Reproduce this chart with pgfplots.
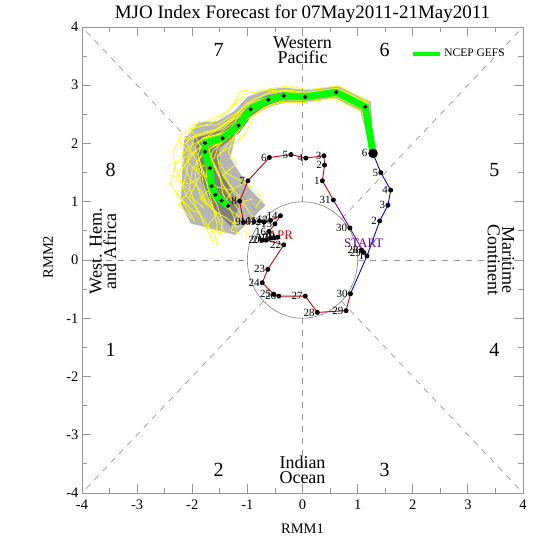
\documentclass[border=0pt]{standalone}
\usepackage{fontspec}
\setmainfont{Liberation Serif}
\usepackage{pgfplots}
\pgfplotsset{compat=1.18}
\definecolor{obsred}{RGB}{205,0,0}
\definecolor{obspurple}{RGB}{110,0,170}
\definecolor{obsblue}{RGB}{0,0,255}
\definecolor{gefsgreen}{RGB}{0,255,0}
\definecolor{ensyellow}{RGB}{255,255,0}
\definecolor{shadelight}{RGB}{182,182,182}
\definecolor{shadedark}{RGB}{128,128,128}
\definecolor{framegray}{RGB}{150,150,150}
\newcommand{\fs}[2]{\fontsize{#1bp}{#2bp}\selectfont}
\pgfplotsset{
  ens/.style={ensyellow, line width=0.7bp, forget plot},
  refline/.style={framegray, line width=0.7bp, dash pattern=on 6bp off 6bp, forget plot},
  obs/.style={line width=0.9bp, mark=*, mark size=2bp, mark options={black, solid}, forget plot,
    nodes near coords, point meta=explicit symbolic,
    every node near coord/.style={anchor=east, font=\fs{11}{11}, black, inner sep=0.8bp, xshift=-1.5bp}},
}
\begin{document}
\begin{tikzpicture}
\useasboundingbox (-82bp,-54bp) rectangle (465bp,493bp);
\begin{axis}[
  at={(0,0)}, anchor=south west,
  width=441bp, height=466bp, scale only axis,
  xmin=-4, xmax=4, ymin=-4, ymax=4,
  xtick={-4,...,4}, ytick={-4,...,4},
  minor tick num=1,
  tick align=inside, tick pos=both,
  major tick length=9bp, minor tick length=5bp,
  axis line style={framegray, line width=0.8bp},
  tick style={framegray, line width=0.8bp},
  ticklabel style={font=\fs{14.5}{16}, black},
  xticklabel style={yshift=-3bp},
  /pgf/number format/assume math mode=true,
  xlabel={RMM1}, ylabel={RMM2},
  label style={font=\fs{14.5}{16}},
  x label style={at={(axis description cs:0.5,-0.086)}, anchor=base},
  y label style={at={(axis description cs:-0.077,0.506)}, anchor=center},
  clip=false,
  legend style={at={(axis cs:1.97,3.54)}, anchor=west, draw=none, fill=none,
    font=\fs{11.5}{13}, inner sep=0pt},
]
% ensemble spread shading
\addplot[fill=shadelight, draw=none, forget plot] coordinates {
 (1.30,1.83) (1.24,2.72) (0.63,2.99) (0.05,2.92) (-0.35,2.96) (-0.66,2.92)
 (-1.00,2.80) (-1.25,2.55) (-1.55,2.38) (-1.88,2.37) (-2.15,2.06) (-2.18,1.55)
 (-2.21,0.97) (-2.03,0.63) (-1.22,0.43) (-0.67,0.94) (-0.94,1.20) (-1.31,1.75)
 (-1.22,2.12) (-0.95,2.45) (-0.62,2.62) (-0.33,2.70) (0.05,2.70) (0.60,2.78)
 (1.05,2.55) (1.26,1.83)} -- cycle;
\addplot[fill=shadedark, draw=none, forget plot] coordinates {
 (1.29,1.83) (1.20,2.68) (0.62,2.93) (0.05,2.85) (-0.35,2.88) (-0.65,2.82)
 (-0.98,2.68) (-1.22,2.42) (-1.50,2.22) (-1.98,2.08) (-1.90,1.72) (-1.82,1.30)
 (-1.62,0.90) (-1.30,0.57) (-1.16,0.91) (-1.35,1.30) (-1.50,1.60) (-1.52,1.92)
 (-1.15,2.18) (-0.92,2.48) (-0.62,2.66) (-0.33,2.74) (0.05,2.74) (0.60,2.82)
 (1.08,2.58) (1.27,1.83)} -- cycle;
% reference lines
\addplot[refline] coordinates {(-4,0) (-1,0)};
\addplot[refline] coordinates {(1,0) (4,0)};
\addplot[refline] coordinates {(0,1) (0,4)};
\addplot[refline] coordinates {(0,-1) (0,-4)};
\addplot[refline] coordinates {(0.7071,0.7071) (4,4)};
\addplot[refline] coordinates {(-0.7071,0.7071) (-4,4)};
\addplot[refline] coordinates {(0.7071,-0.7071) (4,-4)};
\addplot[refline] coordinates {(-0.7071,-0.7071) (-4,-4)};
\draw[gray, line width=0.6bp] (axis cs:0,0) ellipse [x radius=1, y radius=1];
% ensemble members
\addplot[ens] coordinates {(1.28,1.83) (1.18,2.68) (0.62,2.95) (0.05,2.86) (-0.35,2.90) (-0.66,2.85) (-1.0,2.70) (-1.25,2.45) (-1.55,2.25) (-1.95,2.15) (-2.05,1.85) (-2.1,1.5) (-2.2,1.2) (-2.3,1.15) (-2.1,0.9) (-1.95,0.65)};
\addplot[ens] coordinates {(1.28,1.83) (1.10,2.58) (0.58,2.82) (0.02,2.74) (-0.32,2.75) (-0.60,2.66) (-0.88,2.48) (-1.05,2.15) (-1.30,1.95) (-1.55,1.80) (-1.50,1.55) (-1.35,1.35) (-1.20,1.15) (-1.05,0.95) (-0.95,0.80) (-0.85,0.70)};
\addplot[ens] coordinates {(1.28,1.83) (1.16,2.66) (0.66,2.90) (0.10,2.83) (-0.30,2.86) (-0.58,2.80) (-0.92,2.66) (-1.15,2.40) (-1.42,2.18) (-1.80,2.10) (-1.95,1.95) (-1.85,1.65) (-1.80,1.30) (-1.70,1.05) (-1.55,0.75) (-1.40,0.45)};
\addplot[ens] coordinates {(1.28,1.83) (1.12,2.60) (0.60,2.86) (0.06,2.78) (-0.36,2.78) (-0.66,2.70) (-1.0,2.55) (-1.25,2.25) (-1.60,2.05) (-1.90,1.90) (-2.15,1.75) (-2.25,1.45) (-2.10,1.10) (-1.90,0.85) (-1.75,0.55) (-1.60,0.28)};
\addplot[ens] coordinates {(1.28,1.83) (1.15,2.64) (0.55,2.90) (0.00,2.82) (-0.40,2.85) (-0.70,2.78) (-1.05,2.65) (-1.30,2.40) (-1.60,2.20) (-1.85,2.05) (-1.70,1.80) (-1.55,1.55) (-1.45,1.30) (-1.30,1.10) (-1.10,1.00) (-0.90,1.05)};
\addplot[ens] coordinates {(1.28,1.83) (1.13,2.62) (0.63,2.85) (0.08,2.78) (-0.30,2.80) (-0.60,2.72) (-0.90,2.55) (-1.12,2.28) (-1.40,2.05) (-1.70,1.95) (-1.90,1.70) (-1.95,1.40) (-1.85,1.10) (-1.60,0.85) (-1.35,0.70) (-1.15,0.55)};
\addplot[ens] coordinates {(1.28,1.83) (1.17,2.69) (0.64,2.93) (0.04,2.85) (-0.38,2.92) (-0.72,2.90) (-1.05,2.85) (-1.30,2.60) (-1.65,2.35) (-2.00,2.25) (-2.10,2.00) (-1.95,1.75) (-1.75,1.45) (-1.55,1.25) (-1.30,1.20) (-1.10,1.30)};
\addplot[ens] coordinates {(1.28,1.83) (1.11,2.59) (0.57,2.84) (0.03,2.76) (-0.33,2.77) (-0.64,2.69) (-0.98,2.50) (-1.20,2.20) (-1.50,2.00) (-1.80,1.85) (-2.00,1.55) (-2.05,1.25) (-1.95,0.95) (-1.80,0.70) (-1.65,0.50) (-1.55,0.35)};
\addplot[ens] coordinates {(1.28,1.83) (1.15,2.65) (0.60,2.89) (0.06,2.81) (-0.33,2.83) (-0.62,2.77) (-0.95,2.62) (-1.18,2.35) (-1.48,2.12) (-1.75,2.00) (-1.65,1.75) (-1.50,1.45) (-1.45,1.15) (-1.35,0.95) (-1.25,0.75) (-1.20,0.50)};
\addplot[ens] coordinates {(1.28,1.83) (1.14,2.63) (0.61,2.88) (0.05,2.80) (-0.35,2.80) (-0.65,2.72) (-0.95,2.58) (-1.20,2.32) (-1.50,2.15) (-1.85,2.05) (-2.05,1.95) (-2.30,1.65) (-2.40,1.30) (-2.20,1.05) (-2.00,0.85) (-1.85,0.80)};
\addplot[ens] coordinates {(1.28,1.83) (1.16,2.67) (0.62,2.92) (0.07,2.84) (-0.32,2.85) (-0.60,2.78) (-0.92,2.60) (-1.10,2.28) (-1.35,2.00) (-1.55,1.75) (-1.40,1.50) (-1.20,1.40) (-1.00,1.30) (-0.85,1.20) (-0.75,1.05) (-0.85,0.90)};
\addplot[ens] coordinates {(1.28,1.83) (1.12,2.61) (0.59,2.87) (0.04,2.79) (-0.37,2.81) (-0.68,2.76) (-1.02,2.62) (-1.22,2.38) (-1.50,2.18) (-1.78,2.08) (-1.90,1.80) (-1.80,1.50) (-1.70,1.20) (-1.55,0.95) (-1.45,0.65) (-1.50,0.40)};
\addplot[ens] coordinates {(1.28,1.83) (1.13,2.64) (0.60,2.91) (0.06,2.83) (-0.34,2.84) (-0.63,2.80) (-0.95,2.68) (-1.20,2.45) (-1.45,2.25) (-1.75,2.18) (-2.00,2.10) (-2.20,1.95) (-2.15,1.65) (-2.05,1.40) (-1.85,1.20) (-1.75,1.00)};
\addplot[ens] coordinates {(1.28,1.83) (1.14,2.62) (0.62,2.86) (0.05,2.79) (-0.33,2.80) (-0.61,2.73) (-0.92,2.56) (-1.14,2.26) (-1.44,2.05) (-1.70,1.90) (-1.60,1.60) (-1.45,1.30) (-1.30,1.05) (-1.15,0.85) (-1.05,0.62) (-1.00,0.40)};
\addplot[ens] coordinates {(1.28,1.83) (1.15,2.66) (0.63,2.94) (0.08,2.88) (-0.28,2.92) (-0.58,2.88) (-0.90,2.75) (-1.20,2.52) (-1.55,2.32) (-1.90,2.30) (-2.20,2.15) (-2.35,1.85) (-2.30,1.55) (-2.20,1.35) (-2.05,1.30) (-1.90,1.40)};
\addplot[ens] coordinates {(1.28,1.83) (1.12,2.60) (0.59,2.85) (0.03,2.77) (-0.36,2.79) (-0.66,2.71) (-0.97,2.53) (-1.18,2.24) (-1.45,2.02) (-1.62,1.88) (-1.75,1.60) (-1.72,1.25) (-1.62,0.90) (-1.55,0.60) (-1.58,0.40) (-1.55,0.25)};
\addplot[ens] coordinates {(1.28,1.83) (1.20,2.72) (0.66,2.99) (0.10,2.92) (-0.25,2.99) (-0.55,2.95) (-0.85,2.88) (-1.10,2.92) (-1.35,2.55) (-1.70,2.40) (-2.05,2.30) (-1.85,1.95) (-2.10,1.70) (-1.85,1.45) (-2.05,1.10) (-1.80,0.90)};
\addplot[ens] coordinates {(1.28,1.83) (1.08,2.55) (0.55,2.78) (0.00,2.70) (-0.40,2.70) (-0.70,2.62) (-1.02,2.40) (-1.25,2.10) (-1.35,1.85) (-1.20,1.65) (-1.45,1.45) (-1.25,1.20) (-1.45,0.95) (-1.15,0.75) (-1.30,0.50) (-1.10,0.45)};
\addplot[ens] coordinates {(1.28,1.83) (1.17,2.70) (0.70,2.92) (0.15,2.85) (-0.22,2.88) (-0.50,2.82) (-0.80,2.70) (-1.05,2.50) (-1.40,2.35) (-1.65,2.20) (-2.25,2.05) (-2.00,1.80) (-2.30,1.40) (-2.05,1.20) (-2.25,0.95) (-2.00,0.70)};
\addplot[ens] coordinates {(1.28,1.83) (1.13,2.61) (0.58,2.86) (0.02,2.78) (-0.38,2.80) (-0.68,2.72) (-1.00,2.56) (-1.20,2.28) (-1.48,2.08) (-1.60,1.75) (-1.90,1.55) (-1.60,1.30) (-1.85,1.05) (-1.55,0.80) (-1.75,0.55) (-1.45,0.45)};
% ensemble mean (NCEP GEFS)
\addplot[gefsgreen, line width=7bp, line join=round,
  legend image code/.code={\draw[gefsgreen, line width=4bp] (0bp,0bp) -- (27bp,0bp);}]
 coordinates {(1.28,1.83) (1.14,2.63) (0.61,2.88) (0.05,2.80) (-0.34,2.82) (-0.62,2.75) (-0.94,2.59) (-1.16,2.31) (-1.45,2.09) (-1.77,2.01) (-1.77,1.86) (-1.68,1.58) (-1.65,1.27) (-1.58,1.12) (-1.47,1.02) (-1.35,0.93)};
\addlegendentry{NCEP GEFS}
\addplot[only marks, mark=*, mark size=1.9bp, black, forget plot]
 coordinates {(1.14,2.63) (0.61,2.88) (0.05,2.80) (-0.34,2.82) (-0.62,2.75) (-0.94,2.59) (-1.16,2.31) (-1.45,2.09) (-1.77,2.01) (-1.77,1.86) (-1.68,1.58) (-1.65,1.27) (-1.58,1.12) (-1.47,1.02) (-1.35,0.93)};
% observed: March (purple)
\addplot[obs, obspurple] coordinates {(1.07,0.17) [28] (1.11,0.13) [29] (0.86,0.55) [30] (0.56,1.03) [31]};
\addplot[obsred, line width=0.9bp, forget plot] coordinates {(0.56,1.03) (0.36,1.36)};
% April (red)
\addplot[obs, obsred] coordinates {
 (0.36,1.36) [1] (0.40,1.63) [2] (0.39,1.79) [3] (0.06,1.75) [4] (-0.21,1.81) [5]
 (-0.60,1.76) [6] (-0.99,1.36) [7] (-1.14,1.01) [8] (-1.07,0.65) [9] (-0.88,0.66) [10]
 (-0.78,0.67) [11] (-0.70,0.65) [12] (-0.58,0.68) [13] (-0.40,0.76) [14] (-0.50,0.62) [15]
 (-0.61,0.49) [16] (-0.58,0.38) [17] (-0.51,0.38) [18] (-0.45,0.39) [19] (-0.73,0.34) [20]
 (-0.66,0.34) [21] (-0.34,0.26) [22] (-0.63,-0.16) [23] (-0.73,-0.39) [24] (-0.52,-0.59) [25]
 (-0.43,-0.62) [26] (0.05,-0.62) [27] (0.27,-0.90) [28] (0.79,-0.87) [29] (0.87,-0.58) [30]};
\addplot[obsblue, line width=0.9bp, forget plot] coordinates {(0.87,-0.58) (1.17,0.07)};
% May (blue)
\addplot[only marks, mark=*, mark size=4.5bp, black, forget plot] coordinates {(1.28,1.83)};
\addplot[obs, obsblue] coordinates {(1.17,0.07) [1] (1.40,0.67) [2] (1.55,0.94) [3] (1.60,1.20) [4] (1.42,1.50) [5] (1.28,1.83) [6\kern3bp]};
% month labels
\node[obspurple, font=\fs{13}{13}] at (axis cs:1.11,0.29) {START};
\node[obsred, font=\fs{13}{13}] at (axis cs:-0.40,0.43) {APR};
% phase numbers
\node[font=\fs{20}{20}] at (axis cs:-1.52,3.6) {7};
\node[font=\fs{20}{20}] at (axis cs:1.49,3.6) {6};
\node[font=\fs{20}{20}] at (axis cs:-3.48,1.55) {8};
\node[font=\fs{20}{20}] at (axis cs:3.48,1.55) {5};
\node[font=\fs{20}{20}] at (axis cs:-3.48,-1.55) {1};
\node[font=\fs{20}{20}] at (axis cs:3.48,-1.55) {4};
\node[font=\fs{20}{20}] at (axis cs:-1.52,-3.6) {2};
\node[font=\fs{20}{20}] at (axis cs:1.49,-3.6) {3};
% region names
\node[font=\fs{18}{14.5}, align=center, anchor=base] at (axis cs:0,3.38) {Western\\Pacific};
\node[font=\fs{18}{14.5}, align=center, anchor=base] at (axis cs:0,-3.83) {Indian\\Ocean};
\node[font=\fs{18}{14.5}, align=center, rotate=90] at (axis cs:-3.62,0.15) {West. Hem.\\and Africa};
\node[font=\fs{18}{14.5}, align=center, rotate=-90] at (axis cs:3.60,0.0) {Maritime\\Continent};
% title
\node[font=\fs{19}{22}, anchor=base] at (axis cs:0,4.14) {MJO Index Forecast for 07May2011-21May2011};
\end{axis}
\end{tikzpicture}
\end{document}
